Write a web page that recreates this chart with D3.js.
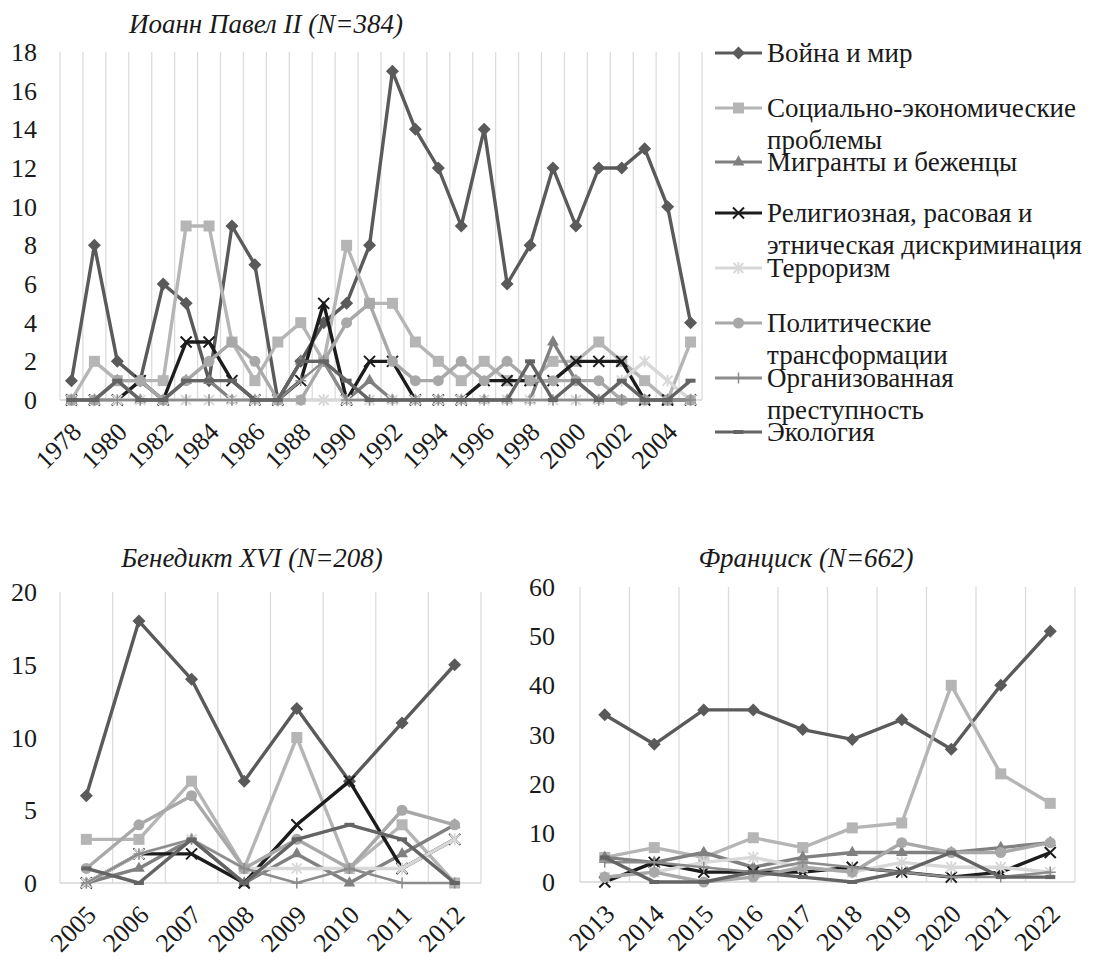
<!DOCTYPE html>
<html>
<head>
<meta charset="utf-8">
<script src="https://cdn.jsdelivr.net/npm/d3@7"></script>
<style>
body { margin: 0; background: #fff; }
</style>
</head>
<body>
<div id="chart"></div>
<script>
const width = 1093;
const height = 965;
const fontName = "Liberation Serif";

// --- series (same order in every panel) ---
const seriesNames = [
    "Война и мир",
    "Социально-экономические проблемы",
    "Мигранты и беженцы",
    "Религиозная, расовая и этническая дискриминация",
    "Терроризм",
    "Политические трансформации",
    "Организованная преступность",
    "Экология"
];
const legendLines = [
    ["Война и мир"],
    ["Социально-экономические", "проблемы"],
    ["Мигранты и беженцы"],
    ["Религиозная, расовая и", "этническая дискриминация"],
    ["Терроризм"],
    ["Политические", "трансформации"],
    ["Организованная", "преступность"],
    ["Экология"]
];
const seriesColors = ["#5a5a5a", "#b5b5b5", "#808080", "#1c1c1c", "#d8d8d8", "#a8a8a8", "#8c8c8c", "#646464"];
const seriesMarkers = ["diamond", "square", "triangle", "x", "star", "circle", "plus", "dash"];

// --- Иоанн Павел II ---
const jp2Years = ["1978","1979","1980","1981","1982","1983","1984","1985","1986","1987",
                  "1988","1989","1990","1991","1992","1993","1994","1995","1996","1997",
                  "1998","1999","2000","2001","2002","2003","2004","2005"];
const jp2Ticks = ["1978","1980","1982","1984","1986","1988","1990","1992","1994","1996","1998","2000","2002","2004"];
const jp2YTicks = [0, 2, 4, 6, 8, 10, 12, 14, 16, 18];
const jp2Values = [
    [1,8,2,1,6,5,1,9,7,0,2,4,5,8,17,14,12,9,14,6,8,12,9,12,12,13,10,4],
    [0,2,1,1,1,9,9,3,1,3,4,2,8,5,5,3,2,1,2,1,1,2,2,3,2,1,0,3],
    [0,0,1,0,0,1,1,0,0,0,2,2,0,1,0,0,0,0,0,0,0,3,1,0,0,0,0,0],
    [0,0,0,1,0,3,3,1,0,0,1,5,0,2,2,0,0,0,1,1,1,1,2,2,2,0,0,0],
    [0,0,0,0,0,0,0,0,0,0,0,0,0,0,0,0,0,0,0,0,0,0,0,0,1,2,1,0],
    [0,0,1,1,0,1,2,3,2,0,0,2,4,5,2,1,1,2,1,2,1,1,1,1,0,0,0,0],
    [0,0,0,0,0,0,0,0,0,0,1,2,0,0,0,0,0,0,0,0,0,0,0,0,0,0,0,0],
    [0,0,1,0,0,1,1,1,0,0,2,2,1,0,0,0,0,0,0,0,2,0,1,0,1,0,0,1]
];

// --- Бенедикт XVI ---
const b16Years = ["2005","2006","2007","2008","2009","2010","2011","2012"];
const b16YTicks = [0, 5, 10, 15, 20];
const b16Values = [
    [6,18,14,7,12,7,11,15],
    [3,3,7,1,10,1,4,0],
    [0,1,3,0,2,0,2,4],
    [0,2,2,0,4,7,1,3],
    [0,2,3,1,1,1,1,3],
    [1,4,6,1,3,1,5,4],
    [0,2,3,1,0,1,0,0],
    [1,0,3,0,3,4,3,0]
];

// --- Франциск ---
const frYears = ["2013","2014","2015","2016","2017","2018","2019","2020","2021","2022"];
const frYTicks = [0, 10, 20, 30, 40, 50, 60];
const frValues = [
    [34,28,35,35,31,29,33,27,40,51],
    [5,7,5,9,7,11,12,40,22,16],
    [5,4,6,3,5,6,6,6,7,8],
    [0,4,2,2,2,3,2,1,2,6],
    [1,2,4,5,3,2,4,3,3,2],
    [1,2,0,1,3,2,8,6,6,8],
    [4,4,3,2,4,3,2,1,1,2],
    [5,0,0,2,1,0,2,6,1,1]
];

const svg = d3.select("#chart")
    .append("svg")
    .attr("width", width)
    .attr("height", height);

function drawMarker(g, type, cx, cy, color) {
    const m = g.append("g").attr("transform", `translate(${cx},${cy})`);
    if (type === "diamond") {
        m.append("path").attr("d", "M0,-6.5L6.5,0L0,6.5L-6.5,0Z").attr("fill", color);
    } else if (type === "square") {
        m.append("rect").attr("x", -5.5).attr("y", -5.5).attr("width", 11).attr("height", 11).attr("fill", color);
    } else if (type === "triangle") {
        m.append("path").attr("d", d3.symbol(d3.symbolTriangle, 60)()).attr("fill", color);
    } else if (type === "circle") {
        m.append("circle").attr("r", 5.5).attr("fill", color);
    } else if (type === "x") {
        m.append("path").attr("d", "M-5.5,-5.5L5.5,5.5M-5.5,5.5L5.5,-5.5")
            .attr("stroke", color).attr("stroke-width", 2);
    } else if (type === "star") {
        m.append("path").attr("d", "M-5,-5L5,5M-5,5L5,-5M0,-6L0,6")
            .attr("stroke", color).attr("stroke-width", 1.8);
    } else if (type === "plus") {
        m.append("path").attr("d", "M-5.5,0L5.5,0M0,-5.5L0,5.5")
            .attr("stroke", color).attr("stroke-width", 1.5);
    } else if (type === "dash") {
        m.append("path").attr("d", "M-5,0L5,0")
            .attr("stroke", color).attr("stroke-width", 4);
    }
}

function drawPanel(p) {
    const x = d3.scaleBand().domain(p.years).range([p.left, p.right]);
    const y = d3.scaleLinear().domain([0, p.yMax]).range([p.bottom, p.top]);
    const cx = d => x(d) + x.bandwidth() / 2;
    const g = svg.append("g");

    // vertical gridlines at category borders
    const borders = p.years.map(d => x(d)).concat([p.right]);
    g.selectAll(".grid")
        .data(borders)
        .join("line")
        .attr("x1", d => d).attr("x2", d => d)
        .attr("y1", p.top).attr("y2", p.bottom)
        .attr("stroke", "#dcdcdc")
        .attr("stroke-width", 1.3);

    g.append("line")
        .attr("x1", p.left).attr("x2", p.right)
        .attr("y1", y(0)).attr("y2", y(0))
        .attr("stroke", "#d6d6d6")
        .attr("stroke-width", 1.5);

    // y labels
    g.selectAll(".ytick")
        .data(p.yTicks)
        .join("text")
        .attr("x", p.labelX)
        .attr("y", d => y(d))
        .attr("dy", "0.35em")
        .attr("text-anchor", "end")
        .attr("fill", "#1a1a1a")
        .style("font-family", fontName)
        .style("font-size", "26px")
        .text(d => d);

    // x labels, rotated
    g.selectAll(".xtick")
        .data(p.ticks)
        .join("text")
        .attr("text-anchor", "end")
        .attr("transform", d => `translate(${cx(d) + 5},${p.bottom + 27}) rotate(-45)`)
        .attr("dy", "0.35em")
        .attr("fill", "#1a1a1a")
        .style("font-family", fontName)
        .style("font-size", "26px")
        .text(d => d);

    // series
    const line = d3.line()
        .x((d, i) => cx(p.years[i]))
        .y(d => y(d));

    p.values.forEach((vals, si) => {
        g.append("path")
            .datum(vals)
            .attr("d", line)
            .attr("fill", "none")
            .attr("stroke", seriesColors[si])
            .attr("stroke-width", si === 6 ? 2.5 : 3.4)
            .attr("stroke-linejoin", "round");
        vals.forEach((v, i) => drawMarker(g, seriesMarkers[si], cx(p.years[i]), y(v), seriesColors[si]));
    });

    g.append("text")
        .attr("x", p.titleX)
        .attr("y", p.titleY)
        .attr("text-anchor", "middle")
        .attr("fill", "#1a1a1a")
        .style("font-family", fontName)
        .style("font-size", "27px")
        .style("font-style", "italic")
        .text(p.title);
}

drawPanel({
    title: "Иоанн Павел II (N=384)", titleX: 266, titleY: 33,
    years: jp2Years, ticks: jp2Ticks, values: jp2Values,
    yMax: 18, yTicks: jp2YTicks,
    left: 60, right: 702, top: 52, bottom: 400, labelX: 37
});

drawPanel({
    title: "Бенедикт XVI (N=208)", titleX: 252, titleY: 567,
    years: b16Years, ticks: b16Years, values: b16Values,
    yMax: 20, yTicks: b16YTicks,
    left: 60, right: 481, top: 592, bottom: 883, labelX: 37
});

drawPanel({
    title: "Франциск (N=662)", titleX: 806, titleY: 567,
    years: frYears, ticks: frYears, values: frValues,
    yMax: 60, yTicks: frYTicks,
    left: 580, right: 1075, top: 587, bottom: 882, labelX: 555
});

// --- legend ---
const legendY = [53, 108, 162, 213, 268, 323, 378, 432];
const legend = svg.append("g");
seriesNames.forEach((name, i) => {
    const ly = legendY[i];
    legend.append("line")
        .attr("x1", 715).attr("x2", 762)
        .attr("y1", ly).attr("y2", ly)
        .attr("stroke", seriesColors[i])
        .attr("stroke-width", 3);
    drawMarker(legend, seriesMarkers[i], 738.5, ly, seriesColors[i]);
    const t = legend.append("text")
        .attr("x", 767)
        .attr("y", ly)
        .attr("fill", "#1a1a1a")
        .style("font-family", fontName)
        .style("font-size", "27px");
    legendLines[i].forEach((s, k) => {
        t.append("tspan")
            .attr("x", 767)
            .attr("dy", k === 0 ? "0.35em" : "32px")
            .text(s);
    });
});
</script>
</body>
</html>
